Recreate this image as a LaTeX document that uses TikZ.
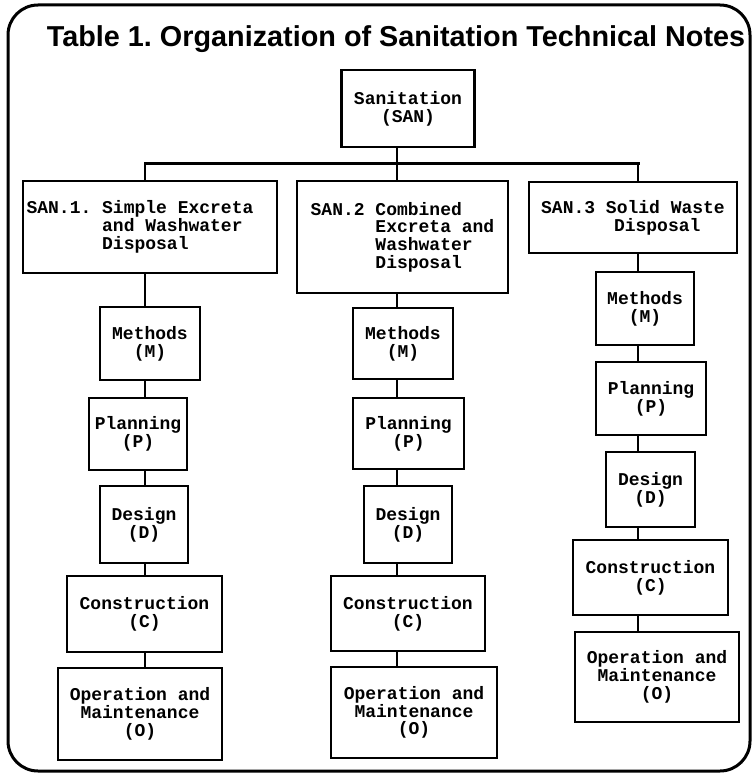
\documentclass[tikz,border=0pt]{standalone}
\usepackage{fontspec}
\setmainfont{Liberation Sans}
\setmonofont{Liberation Mono}
\usepackage{tikz}
\frenchspacing
\tikzset{
  notebox/.style={draw, line width=2.4pt, inner sep=0pt, align=center,
    font=\ttfamily\bfseries\fontsize{18}{17.7}\selectfont},
  sz/.style 2 args={minimum width=#1pt, minimum height=#2pt},
  link/.style={line width=1.6pt},
}

\begin{document}
\begin{tikzpicture}[x=1pt,y=-1pt]
\useasboundingbox (0,0) rectangle (754,776);
\draw[line width=3pt,rounded corners=30pt] (8,5) rectangle (750,771);

\node[anchor=base,font=\bfseries\fontsize{28.8}{30}\selectfont] (title) at (396,47)
  {Table 1. Organization of Sanitation Technical Notes};

\node[notebox,sz={133}{77}] (san) at (408,108.5) {Sanitation\\(SAN)};

\node[notebox,sz={254}{92},align=left] (sub1) at (150,227)
  {SAN.1. Simple Excreta\hspace*{20pt}\\\phantom{SAN.1. }and Washwater\\\phantom{SAN.1. }Disposal};
\node[notebox,sz={211}{112},align=left] (sub2) at (402.5,237)
  {SAN.2 Combined\\\phantom{SAN.2 }Excreta and\\\phantom{SAN.2 }Washwater\\\phantom{SAN.2 }Disposal};
\node[notebox,sz={208}{71},align=left] (sub3) at (633,217.5)
  {SAN.3 Solid Waste\\\phantom{SAN.3 }\hspace{8pt}Disposal};

\node[notebox,sz={100}{73}] (m1) at (150,343.5) {Methods\\(M)};
\node[notebox,sz={98}{72}]  (p1) at (138,434) {Planning\\(P)};
\node[notebox,sz={88}{77}]  (d1) at (144,524.5) {Design\\(D)};
\node[notebox,sz={155}{76}] (c1) at (144.5,614) {Construction\\(C)};
\node[notebox,sz={164}{92}] (o1) at (140,714) {Operation and\\Maintenance\\(O)};

\node[notebox,sz={100}{71}] (m2) at (403,343.5) {Methods\\(M)};
\node[notebox,sz={111}{71}] (p2) at (408.5,433.5) {Planning\\(P)};
\node[notebox,sz={88}{77}]  (d2) at (408,524.5) {Design\\(D)};
\node[notebox,sz={154}{75}] (c2) at (408,613.5) {Construction\\(C)};
\node[notebox,sz={166}{91}] (o2) at (414,712.5) {Operation and\\Maintenance\\(O)};

\node[notebox,sz={98}{73}]  (m3) at (645,308.5) {Methods\\(M)};
\node[notebox,sz={110}{73}] (p3) at (651,398.5) {Planning\\(P)};
\node[notebox,sz={89}{75}]  (d3) at (650.5,489.5) {Design\\(D)};
\node[notebox,sz={155}{75}] (c3) at (650.5,577.5) {Construction\\(C)};
\node[notebox,sz={164}{90}] (o3) at (657,677) {Operation and\\Maintenance\\(O)};

\coordinate (j1) at (145,163);
\coordinate (j2) at (397,163);
\coordinate (j3) at (638,163);
\draw[link] (san.south -| j2) -- (j2);
\draw[line width=3pt,line cap=rect] (j1) -- (j3);
\foreach \c in {1,2,3} {
  \draw[link] (j\c) -- (j\c |- sub\c.north);
  \foreach \a/\b in {sub/m,m/p,p/d,d/c,c/o}
    \draw[link] (\a\c.south -| j\c) -- (\b\c.north -| j\c);
}
\end{tikzpicture}
\end{document}
